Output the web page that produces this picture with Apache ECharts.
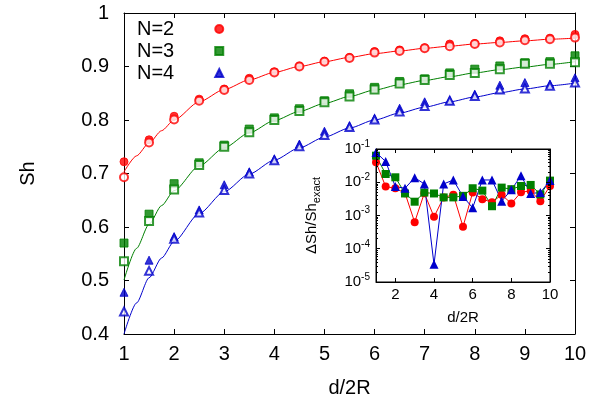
<!DOCTYPE html>
<html><head><meta charset="utf-8">
<script src="https://cdn.jsdelivr.net/npm/echarts@6/dist/echarts.min.js"></script>
<style>html,body{margin:0;padding:0;background:#fff}#c{width:604px;height:409px}</style>
</head><body><div id="c"></div>
<script>
// ---------- data ----------
const dValues = [1,1.5,2,2.5,3,3.5,4,4.5,5,5.5,6,6.5,7,7.5,8,8.5,9,9.5,10];
const dLine   = [1,1.25,1.5,1.75,2,2.5,3,3.5,4,4.5,5,5.5,6,6.5,7,7.5,8,8.5,9,9.5,10];

// main plot: Sh vs d/2R (filled = simulation, open = approximation, line = exact)
const shN2Filled = [0.722,0.763,0.807,0.839,0.858,0.878,0.890,0.901,0.910,0.917,0.928,0.931,0.935,0.942,0.943,0.948,0.952,0.953,0.960];
const shN2Open   = [0.693,0.758,0.801,0.836,0.856,0.875,0.889,0.900,0.909,0.916,0.926,0.929,0.934,0.938,0.942,0.945,0.949,0.951,0.954];
const shN2Line   = [0.703,0.733,0.757,0.780,0.800,0.834,0.857,0.875,0.889,0.900,0.909,0.917,0.924,0.929,0.934,0.938,0.942,0.945,0.948,0.951,0.953];

const shN3Filled = [0.570,0.624,0.681,0.720,0.753,0.783,0.804,0.821,0.836,0.849,0.861,0.872,0.877,0.888,0.895,0.901,0.907,0.909,0.920];
const shN3Open   = [0.536,0.611,0.670,0.716,0.750,0.777,0.800,0.817,0.833,0.844,0.857,0.868,0.875,0.884,0.888,0.895,0.905,0.905,0.908];
const shN3Line   = [0.501,0.560,0.605,0.640,0.668,0.714,0.748,0.776,0.799,0.816,0.831,0.844,0.856,0.866,0.874,0.881,0.888,0.894,0.899,0.904,0.909];

const shN4Filled = [0.478,0.538,0.582,0.632,0.679,0.703,0.727,0.755,0.779,0.789,0.803,0.822,0.834,0.837,0.848,0.865,0.870,0.867,0.879];
const shN4Open   = [0.442,0.518,0.578,0.627,0.669,0.700,0.725,0.751,0.772,0.787,0.801,0.816,0.826,0.836,0.845,0.857,0.859,0.864,0.870];
const shN4Line   = [0.400,0.458,0.505,0.542,0.573,0.625,0.666,0.699,0.725,0.748,0.768,0.785,0.800,0.813,0.824,0.834,0.843,0.851,0.858,0.864,0.869];

// inset: relative error dSh/Sh_exact
const errN2 = [0.040,0.0074,0.0066,0.0047,0.00063,0.0047,0.00091,0.0035,0.0042,0.00046,0.0049,0.0031,0.0025,0.0042,0.0023,0.0050,0.0055,0.0027,0.0077];
const errN3 = [0.063,0.0177,0.0141,0.0046,0.0026,0.0049,0.0046,0.0035,0.0035,0.0039,0.0066,0.0056,0.0019,0.0069,0.0062,0.0077,0.0083,0.0043,0.0112];
const errN4 = [0.079,0.042,0.0074,0.0066,0.0137,0.0089,0.000034,0.0089,0.0117,0.0037,0.0017,0.0117,0.0117,0.0027,0.0059,0.0158,0.0046,0.0049,0.0112];
const insetDashX = 1.33;

// tick labels
const mainXTicks = [1,2,3,4,5,6,7,8,9,10];
const mainYTicks = [0.4,0.5,0.6,0.7,0.8,0.9,1];
const insetXTicks = [2,4,6,8,10];
const insetMinorLog = [];
for (let n = -5; n <= -2; n++) for (let k = 2; k <= 9; k++) insetMinorLog.push(Math.log10(k) + n);

// ---------- styles ----------
const RED = '#ff0000', GREEN = '#008000', BLUE = '#0000cc';
const FONT = 'Liberation Sans';
const pairs = (xs, ys) => xs.map((x, i) => [x, ys[i]]);

const chart = echarts.init(document.getElementById('c'), null, {renderer: 'canvas'});

const axisLineBlack = {show: true, lineStyle: {color: '#000', width: 1}};

function mainLine(name, ys, color) {
  return {name, type: 'line', xAxisIndex: 0, yAxisIndex: 0, data: pairs(dLine, ys), smooth: 0.25, smoothMonotone: 'x',
    showSymbol: false, symbol: 'none', lineStyle: {color, width: 1}, z: 2, silent: true};
}
function mainScatter(name, ys, color, symbol, size) {
  return {name, type: 'scatter', xAxisIndex: 0, yAxisIndex: 0, data: pairs(dValues, ys), symbol, symbolSize: size,
    itemStyle: {color, borderColor: color, borderWidth: 1}, z: 3};
}
function insetSeries(name, ys, color, symbol, size) {
  return {name, type: 'line', xAxisIndex: 2, yAxisIndex: 2, data: pairs(dValues, ys), symbol, symbolSize: size,
    showSymbol: true, lineStyle: {color, width: 1}, itemStyle: {color}, z: 12};
}

const option = {
  animation: false,
  backgroundColor: '#fff',
  textStyle: {fontFamily: FONT},
  legend: {
    orient: 'vertical', left: 137, top: 19, padding: 0, itemGap: 2, align: 'right',
    itemWidth: 8, itemHeight: 8, selectedMode: false,
    textStyle: {fontFamily: FONT, fontSize: 20, color: '#000', lineHeight: 20, padding: [0, 36, 0, 0]},
    data: [{name: 'N=2', icon: 'circle'}, {name: 'N=3', icon: 'rect'}, {name: 'N=4', icon: 'triangle'}]
  },
  grid: [
    {left: 124, top: 13, width: 451, height: 321, show: false},
    {left: 376, top: 149, width: 174, height: 133, show: true, backgroundColor: '#fff', borderColor: '#000', borderWidth: 1, z: 10}
  ],
  xAxis: [
    {type: 'value', gridIndex: 0, min: 1, max: 10, interval: 1, position: 'bottom',
      axisLine: axisLineBlack, splitLine: {show: false},
      axisTick: {inside: true, length: 5, lineStyle: {color: '#000'}},
      axisLabel: {color: '#000', fontSize: 20, fontFamily: FONT, margin: 10, customValues: mainXTicks},
      name: 'd/2R', nameLocation: 'middle', nameGap: 44, nameTextStyle: {color: '#000', fontSize: 20, fontFamily: FONT}},
    {type: 'value', gridIndex: 0, min: 1, max: 10, interval: 1, position: 'top',
      axisLine: axisLineBlack, splitLine: {show: false},
      axisTick: {inside: true, length: 5, lineStyle: {color: '#000'}}, axisLabel: {show: false}},
    {type: 'value', gridIndex: 1, min: 1, max: 10, position: 'bottom', z: 13,
      axisLine: axisLineBlack, splitLine: {show: false},
      axisTick: {inside: true, length: 4, lineStyle: {color: '#000'}, customValues: insetXTicks},
      axisLabel: {color: '#000', fontSize: 15, fontFamily: FONT, margin: 5, customValues: insetXTicks},
      name: 'd/2R', nameLocation: 'middle', nameGap: 28, nameTextStyle: {color: '#000', fontSize: 15, fontFamily: FONT}},
    {type: 'value', gridIndex: 1, min: 1, max: 10, position: 'top', z: 13,
      axisLine: axisLineBlack, splitLine: {show: false},
      axisTick: {inside: true, length: 4, lineStyle: {color: '#000'}, customValues: insetXTicks},
      axisLabel: {show: false}}
  ],
  yAxis: [
    {type: 'value', gridIndex: 0, min: 0.4, max: 1, interval: 0.1, position: 'left',
      axisLine: axisLineBlack, splitLine: {show: false},
      axisTick: {inside: true, length: 5, lineStyle: {color: '#000'}},
      axisLabel: {color: '#000', fontSize: 20, fontFamily: FONT, margin: 15, customValues: mainYTicks},
      name: 'Sh', nameLocation: 'middle', nameGap: 86, nameTextStyle: {color: '#000', fontSize: 20, fontFamily: FONT}},
    {type: 'value', gridIndex: 0, min: 0.4, max: 1, interval: 0.1, position: 'right',
      axisLine: axisLineBlack, splitLine: {show: false},
      axisTick: {inside: true, length: 5, lineStyle: {color: '#000'}}, axisLabel: {show: false}},
    {type: 'log', logBase: 10, gridIndex: 1, min: 1e-5, max: 1e-1, position: 'left', z: 13,
      axisLine: axisLineBlack, splitLine: {show: false},
      axisTick: {inside: true, length: 4, lineStyle: {color: '#000'}},
      axisLabel: {color: '#000', fontFamily: FONT, margin: 6,
        formatter: (v) => '{b|10}{s|' + Math.round(Math.log10(v)) + '}',
        rich: {b: {fontSize: 15, fontFamily: FONT, color: '#000', lineHeight: 20},
               s: {fontSize: 10, fontFamily: FONT, color: '#000', verticalAlign: 'top', lineHeight: 12}}},
      name: '{a|ΔSh/Sh}{sub|exact}', nameLocation: 'middle', nameGap: 54,
      nameTextStyle: {color: '#000', fontFamily: FONT,
        rich: {a: {fontSize: 15, fontFamily: FONT, color: '#000', lineHeight: 20},
               sub: {fontSize: 11, fontFamily: FONT, color: '#000', verticalAlign: 'bottom', lineHeight: 14}}}},
    {type: 'value', gridIndex: 1, min: -5, max: -1, position: 'left', z: 13,
      axisLine: {show: false}, splitLine: {show: false},
      axisTick: {inside: true, length: 2, lineStyle: {color: '#000'}, customValues: insetMinorLog},
      axisLabel: {show: false}},
    {type: 'log', logBase: 10, gridIndex: 1, min: 1e-5, max: 1e-1, position: 'right', z: 13,
      axisLine: axisLineBlack, splitLine: {show: false},
      axisTick: {inside: true, length: 4, lineStyle: {color: '#000'}}, axisLabel: {show: false}},
    {type: 'value', gridIndex: 1, min: -5, max: -1, position: 'right', z: 13,
      axisLine: {show: false}, splitLine: {show: false},
      axisTick: {inside: true, length: 2, lineStyle: {color: '#000'}, customValues: insetMinorLog},
      axisLabel: {show: false}}
  ],
  series: [
    mainLine('N=2 exact', shN2Line, RED),
    mainLine('N=3 exact', shN3Line, GREEN),
    mainLine('N=4 exact', shN4Line, BLUE),
    mainScatter('N=2', shN2Filled, RED, 'circle', 8),
    mainScatter('N=2 open', shN2Open, RED, 'emptyCircle', 8),
    mainScatter('N=3', shN3Filled, GREEN, 'rect', 8),
    mainScatter('N=3 open', shN3Open, GREEN, 'emptyRect', 8),
    mainScatter('N=4', shN4Filled, BLUE, 'triangle', 8),
    mainScatter('N=4 open', shN4Open, BLUE, 'emptyTriangle', 8),
    Object.assign(insetSeries('err N=2', errN2, RED, 'circle', 8), {
      markLine: {silent: true, symbol: 'none', label: {show: false},
        lineStyle: {color: '#000', width: 2, type: [3, 3]}, data: [{xAxis: insetDashX}]}}),
    insetSeries('err N=3', errN3, GREEN, 'rect', 8),
    insetSeries('err N=4', errN4, BLUE, 'triangle', 9)
  ]
};
chart.setOption(option);
</script>
</body></html>
